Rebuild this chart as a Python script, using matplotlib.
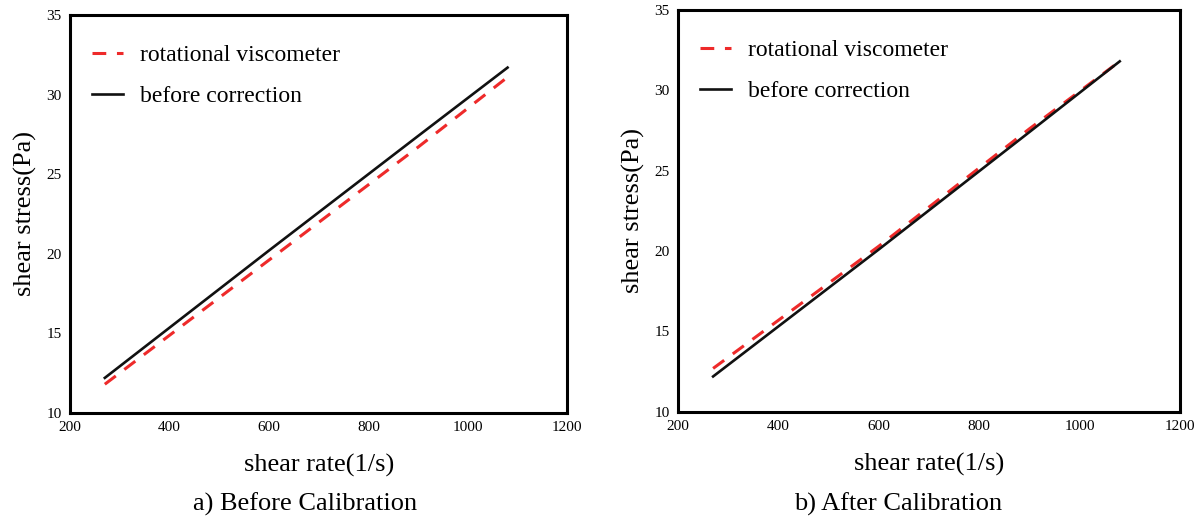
import numpy as np
import matplotlib
matplotlib.use("Agg")
import matplotlib.pyplot as plt

plt.rcParams['font.family'] = ['Liberation Serif', 'DejaVu Serif']

# datos
rate = [270, 600, 900, 1080]
visc_antes = [11.8, 19.6, 26.7, 31.1]
corr_antes = [12.2, 20.2, 27.4, 31.7]

visc_despues = [12.7, 20.3, 27.6, 31.8]
corr_despues = [12.2, 20.1, 27.4, 31.8]

xticks = [200, 400, 600, 800, 1000, 1200]
yticks = [10, 15, 20, 25, 30, 35]

fig = plt.figure(figsize=(12.01, 5.2), dpi=100)
ax1 = fig.add_axes([0.0583, 0.206, 0.414, 0.765])
ax2 = fig.add_axes([0.5645, 0.208, 0.418, 0.773])

paneles = [
    (ax1, visc_antes, corr_antes, "a) Before Calibration", 0.254),
    (ax2, visc_despues, corr_despues, "b) After Calibration", 0.748),
]

for ax, visc, corr, titulo, xc in paneles:
    ax.plot(rate, visc, color='#ee2a2a', linestyle=(0, (4.5, 3.5)), linewidth=2.2,
            label='rotational viscometer')
    ax.plot(rate, corr, color='#111111', linewidth=1.9, label='before correction')
    ax.set_xlim(200, 1200)
    ax.set_ylim(10, 35)
    ax.set_xticks(xticks)
    ax.set_yticks(yticks)
    ax.tick_params(length=0, labelsize=11, pad=6)
    for s in ax.spines.values():
        s.set_linewidth(2.2)
        s.set_color('black')
    ax.set_xlabel('shear rate(1/s)', fontsize=19, labelpad=14)
    ax.set_ylabel('shear stress(Pa)', fontsize=19, labelpad=7)
    ax.legend(loc='upper left', bbox_to_anchor=(0, 0.982), frameon=False,
              fontsize=17, handlelength=1.3, labelspacing=0.82,
              handletextpad=0.7, borderaxespad=0.55)
    fig.text(xc, 0.03, titulo, ha='center', va='center', fontsize=19)

fig.savefig("out.png", dpi=100)
